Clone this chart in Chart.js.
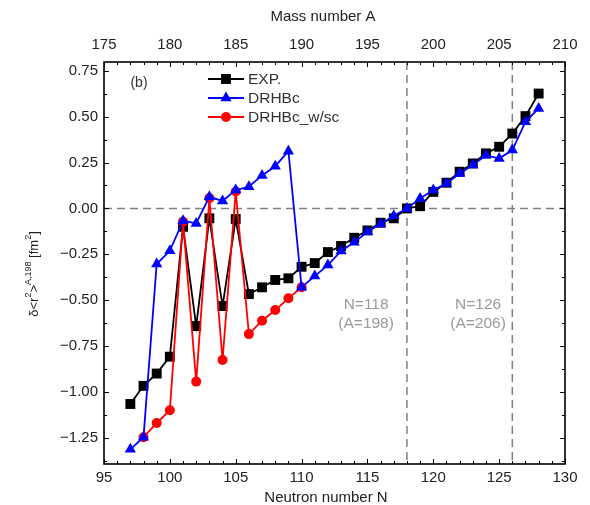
<!DOCTYPE html>
<html>
<head>
<meta charset="utf-8">
<title>Charge radii</title>
<script src="https://cdn.jsdelivr.net/npm/chart.js@4.4.1/dist/chart.umd.min.js"></script>
<style>
    html, body { margin: 0; padding: 0; background: #fff; }
    canvas { display: block; }
</style>
</head>
<body>
<canvas id="chart" width="590" height="505"></canvas>
<script>
// neutron numbers of the isotopes
const neutronN = [97, 98, 99, 100, 101, 102, 103, 104, 105, 106, 107, 108, 109, 110, 111, 112,
    113, 114, 115, 116, 117, 118, 119, 120, 121, 122, 123, 124, 125, 126, 127, 128];
const expValues = [-1.066, -0.967, -0.90, -0.808, -0.10, -0.641, -0.054, -0.532, -0.058, -0.467, -0.43, -0.39, -0.381, -0.318, -0.298, -0.238,
    -0.205, -0.16, -0.12, -0.078, -0.054, 0.0, 0.012, 0.09, 0.14, 0.20, 0.245, 0.30, 0.336, 0.408, 0.503, 0.626];
const drhbcValues = [-1.313, -1.247, -0.303, -0.231, -0.067, -0.082, 0.063, 0.041, 0.10, 0.118, 0.18, 0.23, 0.312, -0.43, -0.369, -0.309,
    -0.232, -0.185, -0.127, -0.085, -0.04, 0.0, 0.054, 0.10, 0.136, 0.19, 0.236, 0.29, 0.272, 0.318, 0.472, 0.545];
const wscN = [98, 99, 100, 101, 102, 103, 104, 105, 106, 107, 108, 109, 110];
const wscValues = [-1.247, -1.17, -1.10, -0.072, -0.944, 0.056, -0.826, 0.092, -0.685, -0.612, -0.554, -0.49, -0.43];

const neutronTicks = [95, 100, 105, 110, 115, 120, 125, 130];
const massTicks = [175, 180, 185, 190, 195, 200, 205, 210];
const radiusTicks = [-1.25, -1.00, -0.75, -0.50, -0.25, 0.00, 0.25, 0.50, 0.75];
const shellN = [118, 126];
const shellLabels = [['N=118', '(A=198)'], ['N=126', '(A=206)']];
const shellLabelN = [114.9, 123.4];

const FONT = "'Liberation Sans', Arial, Helvetica, sans-serif";
Chart.defaults.font.family = FONT;
Chart.defaults.color = '#222';

const seriesStyle = [
    {label: 'EXP.', color: '#000000', point: 'rect', radius: 7},
    {label: 'DRHBc', color: '#0000ff', point: 'triangle', radius: 6.5},
    {label: 'DRHBc_w/sc', color: '#ff0000', point: 'circle', radius: 5}
];

function toPoints(xs, ys) {
    return xs.map((n, i) => ({x: n, y: ys[i]}));
}

function line(ctx, x1, y1, x2, y2) {
    ctx.beginPath();
    ctx.moveTo(x1, y1);
    ctx.lineTo(x2, y2);
    ctx.stroke();
}

function marker(ctx, style, x, y) {
    const r = style.radius;
    ctx.fillStyle = style.color;
    ctx.beginPath();
    if (style.point === 'rect') {
        const s = r * Math.SQRT1_2;
        ctx.rect(x - s, y - s, 2 * s, 2 * s);
    } else if (style.point === 'triangle') {
        ctx.moveTo(x, y - r);
        ctx.lineTo(x + r * Math.sin(2 * Math.PI / 3), y + r * 0.5);
        ctx.lineTo(x - r * Math.sin(2 * Math.PI / 3), y + r * 0.5);
        ctx.closePath();
    } else {
        ctx.arc(x, y, r, 0, Math.PI * 2);
    }
    ctx.fill();
}

const framePlugin = {
    id: 'frame',
    beforeDatasetsDraw(chart) {
        const {ctx, chartArea: a, scales: {x, y}} = chart;
        ctx.save();
        ctx.strokeStyle = '#808080';
        ctx.lineWidth = 1.5;
        ctx.setLineDash([8, 5]);
        const y0 = y.getPixelForValue(0);
        line(ctx, a.left, y0, a.right, y0);
        shellN.forEach(n => {
            const px = x.getPixelForValue(n);
            line(ctx, px, a.top, px, a.bottom);
        });
        ctx.restore();
    },
    afterDraw(chart) {
        const {ctx, chartArea: a, scales: {x, y}} = chart;
        ctx.save();

        // inward ticks on all four sides
        ctx.strokeStyle = '#000';
        ctx.lineWidth = 1;
        for (let n = 95; n <= 130; n++) {
            const px = Math.round(x.getPixelForValue(n)) + 0.5;
            const len = n % 5 === 0 ? 5 : 3;
            line(ctx, px, a.bottom, px, a.bottom - len);
            line(ctx, px, a.top, px, a.top + len);
        }
        for (let k = -11; k <= 6; k++) {
            const v = k * 0.125;
            const py = Math.round(y.getPixelForValue(v)) + 0.5;
            const len = k % 2 === 0 ? 5 : 3;
            line(ctx, a.left, py, a.left + len, py);
            line(ctx, a.right, py, a.right - len, py);
        }

        // frame
        ctx.lineWidth = 1.6;
        ctx.strokeRect(a.left, a.top, a.right - a.left, a.bottom - a.top);

        // shell closure labels
        ctx.fillStyle = '#9a9a9a';
        ctx.font = '15.5px ' + FONT;
        ctx.textAlign = 'center';
        ctx.textBaseline = 'middle';
        shellLabels.forEach((lines, i) => {
            const px = x.getPixelForValue(shellLabelN[i]);
            const py = y.getPixelForValue(-0.527);
            lines.forEach((t, j) => ctx.fillText(t, px, py + j * 19));
        });

        // panel label and legend
        ctx.fillStyle = '#333';
        ctx.font = '14px ' + FONT;
        ctx.fillText('(b)', 139, 83);
        seriesStyle.forEach((s, i) => {
            const ly = 79 + i * 19;
            ctx.strokeStyle = s.color;
            ctx.lineWidth = 1.8;
            line(ctx, 208, ly, 244, ly);
            marker(ctx, s, 226, ly);
            ctx.fillStyle = '#333';
            ctx.font = '15.5px ' + FONT;
            ctx.textAlign = 'left';
            ctx.fillText(s.label, 248, ly + 1);
        });

        // axis titles
        ctx.fillStyle = '#222';
        ctx.textAlign = 'center';
        ctx.font = '15px ' + FONT;
        ctx.fillText('Mass number A', 323, 17);
        ctx.fillText('Neutron number N', 326, 498);

        // y title with superscripts, rotated
        const parts = [
            ['\u03b4<r', 13, 0], ['2', 9, -5], ['>', 13, 0], ['A,198', 9, -5],
            [' [fm', 13, 0], ['2', 9, -5], [']', 13, 0]
        ];
        let total = 0;
        parts.forEach(p => {
            ctx.font = p[1] + 'px ' + FONT;
            total += ctx.measureText(p[0]).width;
        });
        ctx.translate(34, 274);
        ctx.rotate(-Math.PI / 2);
        ctx.textAlign = 'left';
        let cx = -total / 2;
        parts.forEach(p => {
            ctx.font = p[1] + 'px ' + FONT;
            ctx.fillText(p[0], cx, p[2]);
            cx += ctx.measureText(p[0]).width;
        });
        ctx.restore();
    }
};

function formatRadius(v) {
    if (Math.abs(v) < 1e-9) v = 0;
    return v.toFixed(2).replace('-', '\u2212');
}

const datasets = [
    {values: toPoints(neutronN, expValues), order: 3},
    {values: toPoints(neutronN, drhbcValues), order: 1},
    {values: toPoints(wscN, wscValues), order: 2}
].map((d, i) => ({
    label: seriesStyle[i].label,
    data: d.values,
    order: d.order,
    borderColor: seriesStyle[i].color,
    backgroundColor: seriesStyle[i].color,
    borderWidth: 1.8,
    pointStyle: seriesStyle[i].point,
    pointRadius: seriesStyle[i].radius,
    pointBorderWidth: 0,
    tension: 0
}));

const tickFont = {size: 15, family: FONT};

new Chart(document.getElementById('chart'), {
    type: 'line',
    data: {datasets: datasets},
    options: {
        responsive: false,
        animation: false,
        devicePixelRatio: 1,
        layout: {padding: {left: 0, right: 25, top: 0, bottom: 0}},
        plugins: {legend: {display: false}, tooltip: {enabled: false}},
        scales: {
            x: {
                type: 'linear',
                position: 'bottom',
                min: 95,
                max: 130,
                afterBuildTicks: scale => { scale.ticks = neutronTicks.map(v => ({value: v})); },
                afterFit: scale => { scale.height = 41; },
                ticks: {font: tickFont, color: '#222', padding: 5, maxRotation: 0},
                grid: {display: false, drawTicks: false},
                border: {display: false}
            },
            xTop: {
                type: 'linear',
                position: 'top',
                min: 175,
                max: 210,
                afterBuildTicks: scale => { scale.ticks = massTicks.map(v => ({value: v})); },
                afterFit: scale => { scale.height = 62; },
                ticks: {font: tickFont, color: '#222', padding: 8, maxRotation: 0},
                grid: {display: false, drawTicks: false},
                border: {display: false}
            },
            y: {
                type: 'linear',
                min: -1.393,
                max: 0.798,
                afterBuildTicks: scale => { scale.ticks = radiusTicks.map(v => ({value: v})); },
                afterFit: scale => { scale.width = 104; },
                ticks: {font: tickFont, color: '#222', padding: 6, callback: v => formatRadius(v)},
                grid: {display: false, drawTicks: false},
                border: {display: false}
            }
        }
    },
    plugins: [framePlugin]
});
</script>
</body>
</html>
